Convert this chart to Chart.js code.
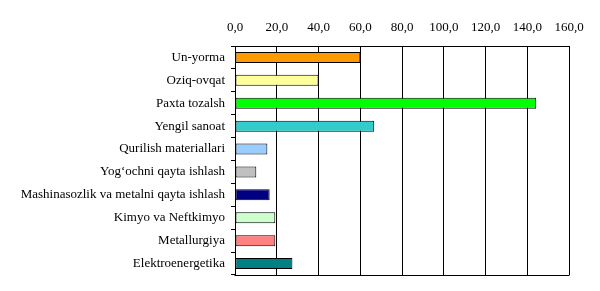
<!DOCTYPE html>
<html>
<head>
<meta charset="utf-8">
<script src="https://cdn.jsdelivr.net/npm/chart.js@4/dist/chart.umd.min.js"></script>
<style>
html,body{margin:0;padding:0;background:#fff;}
#wrap{width:600px;height:291px;}
</style>
</head>
<body>
<div id="wrap"><canvas id="c" width="600" height="291"></canvas></div>
<script>
const categories = ["Un-yorma","Oziq-ovqat","Paxta tozalsh","Yengil sanoat","Qurilish materiallari","Yog‘ochni qayta ishlash","Mashinasozlik va metalni qayta ishlash","Kimyo va Neftkimyo","Metallurgiya","Elektroenergetika"];
const values = [60.0, 40.0, 144.3, 66.7, 15.5, 10.2, 16.6, 19.3, 19.3, 27.5];
const barColors = ["#FF9900","#FFFF99","#00FF00","#33CCCC","#99CCFF","#C0C0C0","#000080","#CCFFCC","#FF8080","#008080"];
const xTicks = [0,20,40,60,80,100,120,140,160];

const frame = {
  id:'frame',
  afterDraw(chart){
    const a = chart.chartArea, ctx = chart.ctx;
    ctx.save();
    ctx.strokeStyle = '#000';
    ctx.lineWidth = 1;
    ctx.beginPath();
    ctx.moveTo(Math.round(a.left)-0.5, Math.round(a.bottom)+0.5);
    ctx.lineTo(Math.round(a.right)+0.5, Math.round(a.bottom)+0.5);
    ctx.stroke();
    ctx.restore();
  }
};

const FONT = '"Liberation Serif","Times New Roman",serif';

new Chart(document.getElementById('c'), {
  type:'bar',
  data:{
    labels:categories,
    datasets:[{
      data:values,
      backgroundColor:barColors,
      borderColor:'#000',
      borderWidth:1,
      borderSkipped:false,
      categoryPercentage:1.0,
      barPercentage:0.48
    }]
  },
  options:{
    indexAxis:'y',
    responsive:false,
    animation:false,
    layout:{padding:{top:0,right:31,bottom:16,left:0}},
    plugins:{legend:{display:false},tooltip:{enabled:false}},
    scales:{
      x:{
        position:'top',
        min:0,max:160,
        afterBuildTicks(s){ s.ticks = xTicks.map(v=>({value:v})); },
        afterFit(s){ s.height = 46; },
        grid:{color:'#000',lineWidth:1,tickLength:0,drawTicks:false},
        border:{display:true,color:'#000',width:1},
        ticks:{
          color:'#000',
          padding:11,
          font:{family:FONT,size:13},
          callback:(v)=>Number(v).toFixed(1).replace('.',',')
        }
      },
      y:{
        afterFit(s){ s.width = 235; },
        grid:{display:true,offset:true,drawOnChartArea:false,color:'#000',tickLength:4,lineWidth:1},
        border:{display:true,color:'#000',width:1},
        ticks:{
          color:'#000',
          padding:6,
          font:{family:FONT,size:13}
        }
      }
    }
  },
  plugins:[frame]
});
</script>
</body>
</html>
